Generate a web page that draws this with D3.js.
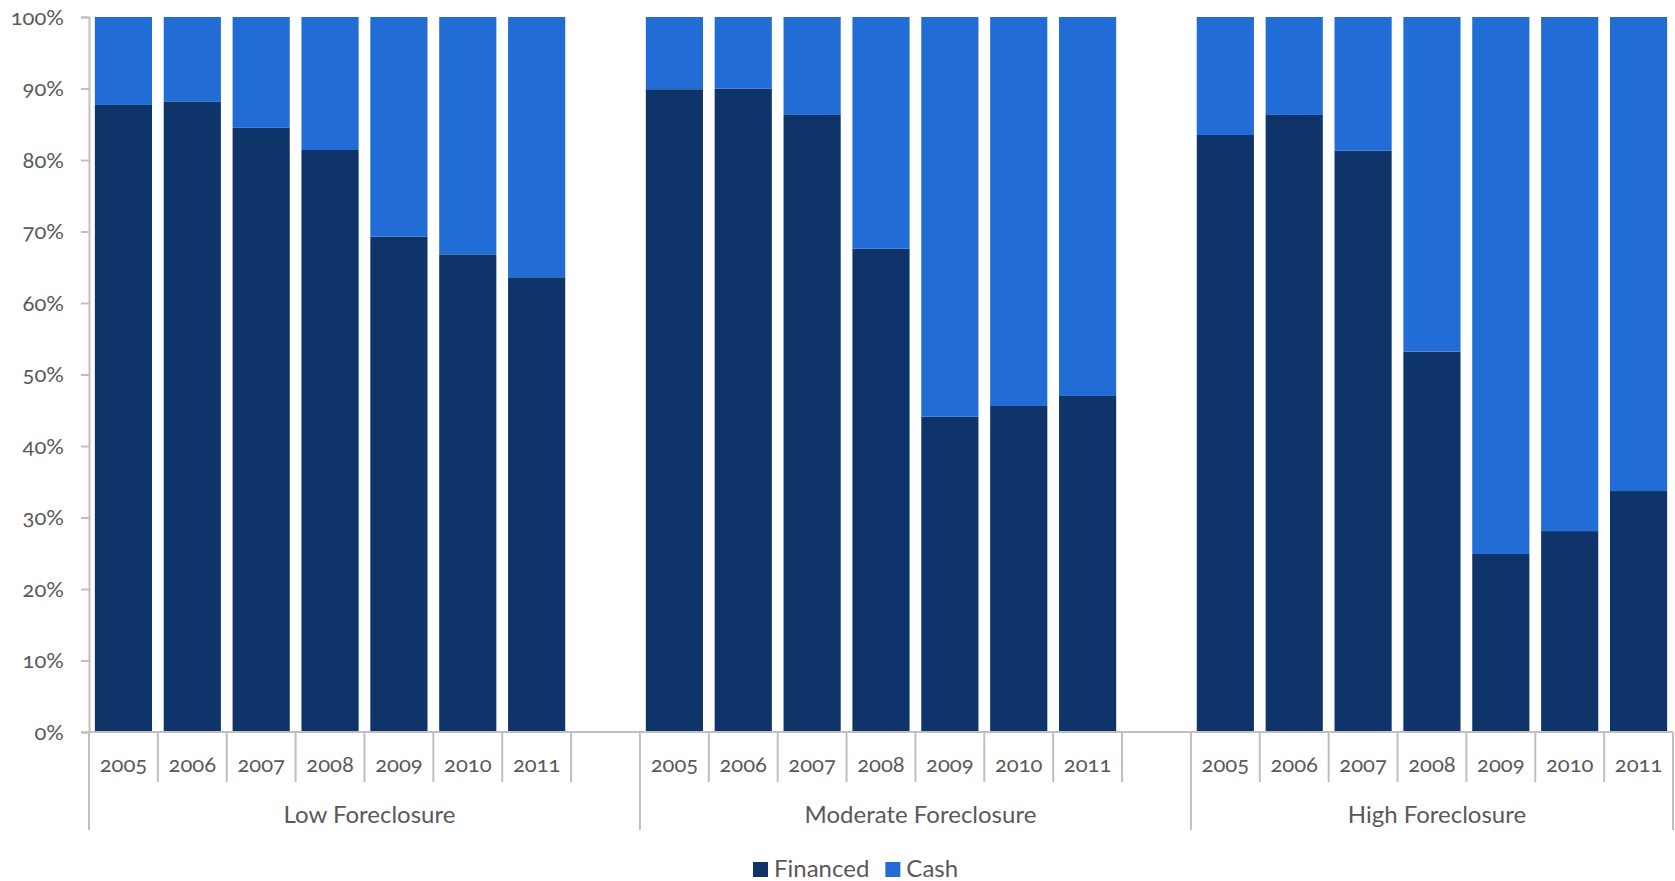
<!DOCTYPE html>
<html>
<head>
<meta charset="utf-8">
<script src="https://cdn.jsdelivr.net/npm/d3@7/dist/d3.min.js"></script>
<style>
  html, body { margin: 0; padding: 0; background: #ffffff; }
  svg { display: block; }
  .tick-label { font-family: Lato, "Open Sans", sans-serif; font-variant-numeric: oldstyle-nums; font-feature-settings: "onum"; fill: #595959; }
  .group-label, .legend-label { font-family: Lato, "Open Sans", sans-serif; fill: #595959; }
</style>
</head>
<body>
<script>
// Share of home purchases, financed vs. cash, by foreclosure level and year
const groups = ["Low Foreclosure", "Moderate Foreclosure", "High Foreclosure"];
const years = ["2005", "2006", "2007", "2008", "2009", "2010", "2011"];
const financedLow = [87.7, 88.2, 84.5, 81.4, 69.3, 66.8, 63.6];
const financedModerate = [89.9, 90.0, 86.3, 67.6, 44.1, 45.6, 47.0];
const financedHigh = [83.5, 86.3, 81.3, 53.2, 24.9, 28.1, 33.7];
const seriesNames = ["Financed", "Cash"];
const seriesColors = ["#0f346a", "#216cd5"];
const yTicks = [0, 10, 20, 30, 40, 50, 60, 70, 80, 90, 100];

const width = 1675, height = 881;
const margin = { left: 89, right: 2, top: 17, bottom: 149 };

// Build slots: each group gets its years plus a blank spacer (except the last)
const financedByGroup = [financedLow, financedModerate, financedHigh];
const slots = [];
groups.forEach((g, gi) => {
  years.forEach((y, yi) => {
    slots.push({ key: g + "|" + y, group: g, year: y, financed: financedByGroup[gi][yi] });
  });
  if (gi < groups.length - 1) slots.push({ key: g + "|blank", group: g, year: "", financed: null });
});

const svg = d3.select("body").append("svg")
  .attr("width", width).attr("height", height);

const x = d3.scaleBand()
  .domain(slots.map(d => d.key))
  .range([margin.left, width - margin.right])
  .paddingInner(0.17)
  .paddingOuter(0.085);

const y = d3.scaleLinear()
  .domain([0, 100])
  .range([height - margin.bottom, margin.top]);

const step = x.step();
const slotLeft = k => x(k) - step * x.paddingInner() / 2;

// Stacked bars
const barData = slots.filter(d => d.financed !== null);
const stack = d3.stack().keys(seriesNames)
  .value((d, key) => key === "Financed" ? d.financed : 100 - d.financed);
const stacked = stack(barData);

svg.append("g").selectAll("g")
  .data(stacked)
  .join("g")
  .attr("fill", (s, i) => seriesColors[i])
  .selectAll("rect")
  .data(s => s)
  .join("rect")
  .attr("x", d => x(d.data.key))
  .attr("width", x.bandwidth())
  .attr("y", d => y(d[1]))
  .attr("height", d => y(d[0]) - y(d[1]));

const axisColor = "#bfbfbf";

// Y axis
const yAxis = d3.axisLeft(y)
  .tickValues(yTicks)
  .tickFormat(d => d + "%")
  .tickSize(8)
  .tickPadding(17);

const yg = svg.append("g")
  .attr("transform", `translate(${margin.left},0)`)
  .call(yAxis);
yg.select(".domain").attr("stroke", axisColor).attr("stroke-width", 2);
yg.selectAll(".tick line").attr("stroke", axisColor).attr("stroke-width", 2);
yg.selectAll(".tick text")
  .attr("class", "tick-label")
  .attr("font-size", 22)
  .attr("fill", "#595959")
  .style("font-family", "Lato, 'Open Sans', sans-serif");

// X axis baseline
const y0 = y(0);
const xEnd = width - margin.right;
svg.append("line")
  .attr("x1", margin.left).attr("x2", xEnd)
  .attr("y1", y0).attr("y2", y0)
  .attr("stroke", axisColor).attr("stroke-width", 2);

// Year separators and labels
const sepGroup = svg.append("g");
slots.forEach((d, i) => {
  const left = slotLeft(d.key);
  if (i > 0) {
    const isGroupStart = d.group !== slots[i - 1].group;
    sepGroup.append("line")
      .attr("x1", left).attr("x2", left)
      .attr("y1", y0).attr("y2", isGroupStart ? y0 + 98 : y0 + 50)
      .attr("stroke", axisColor).attr("stroke-width", 2);
  }
  if (d.year) {
    svg.append("text")
      .attr("class", "tick-label")
      .attr("x", x(d.key) + x.bandwidth() / 2)
      .attr("y", y0 + 40)
      .attr("text-anchor", "middle")
      .attr("font-size", 22)
      .text(d.year);
  }
});
// Outer group edges
[margin.left, xEnd].forEach(px => {
  sepGroup.append("line")
    .attr("x1", px).attr("x2", px)
    .attr("y1", y0).attr("y2", y0 + 98)
    .attr("stroke", axisColor).attr("stroke-width", 2);
});

// Group labels centred on each group's span
groups.forEach(g => {
  const members = slots.filter(d => d.group === g);
  const left = slotLeft(members[0].key);
  const right = slotLeft(members[members.length - 1].key) + step;
  svg.append("text")
    .attr("class", "group-label")
    .attr("x", (left + right) / 2 + 5)
    .attr("y", y0 + 91)
    .attr("text-anchor", "middle")
    .attr("font-size", 24)
    .text(g);
});

// Legend
const legend = svg.append("g").attr("transform", "translate(753,862)");
let lx = 0;
seriesNames.forEach((name, i) => {
  const item = legend.append("g").attr("transform", `translate(${lx},0)`);
  item.append("rect").attr("width", 15).attr("height", 15).attr("fill", seriesColors[i]);
  const t = item.append("text")
    .attr("class", "legend-label")
    .attr("x", 21).attr("y", 15)
    .attr("font-size", 24)
    .text(name);
  lx += 21 + t.node().getComputedTextLength() + 16;
});
</script>
</body>
</html>
